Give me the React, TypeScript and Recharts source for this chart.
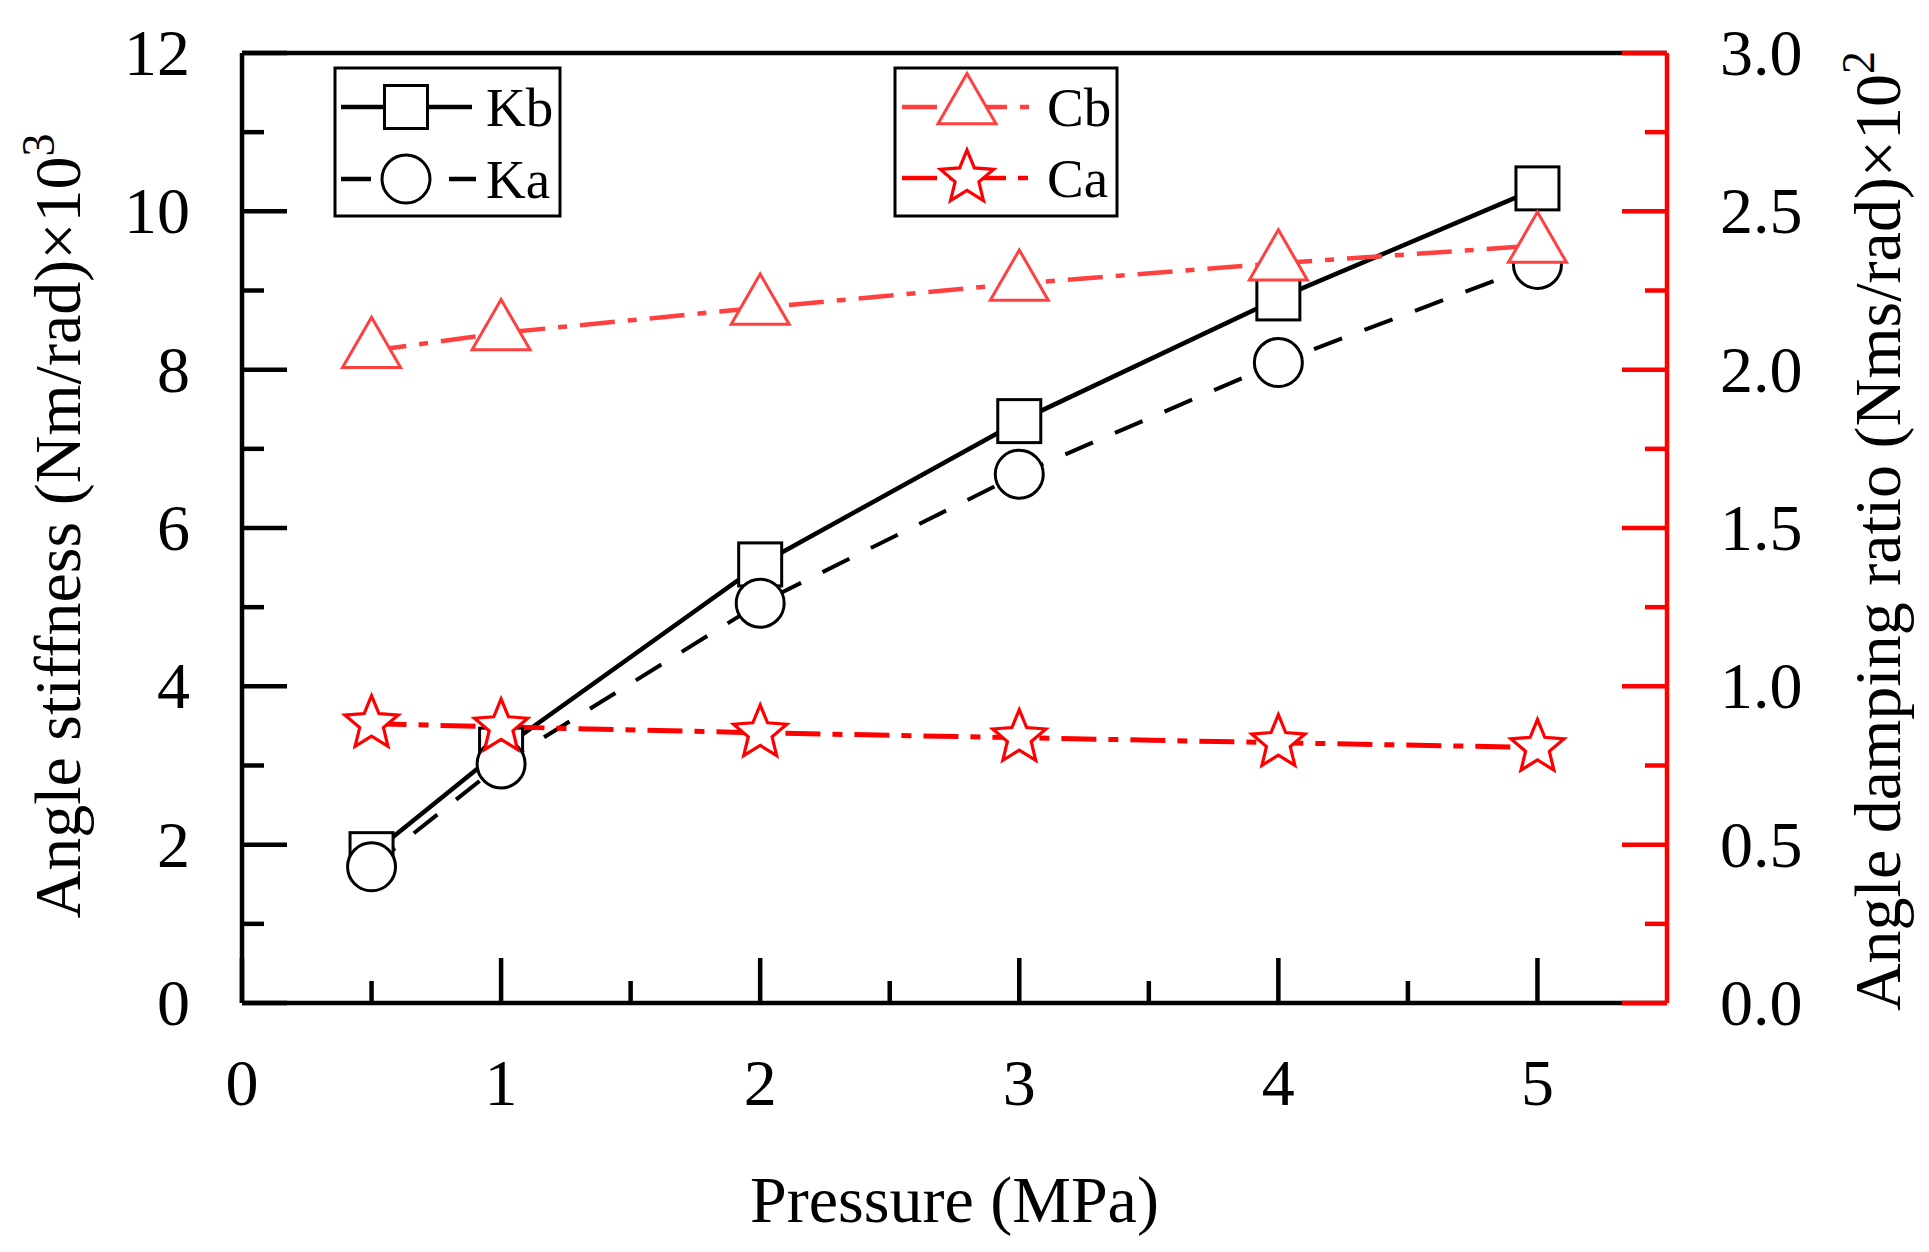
import React from 'react';
import { ComposedChart, Line, XAxis, YAxis, ReferenceLine } from 'recharts';

// ---------- data ----------
const pressure = [0.5, 1, 2, 3, 4, 5];
const kbValues = [1.88, 3.2, 5.54, 7.35, 8.9, 10.29];
const kaValues = [1.72, 3.02, 5.05, 6.68, 8.09, 9.33];
const cbValues = [2.06, 2.116, 2.196, 2.272, 2.336, 2.392];
const caValues = [0.882, 0.872, 0.853, 0.838, 0.822, 0.807];

const xTicks = [0, 0.5, 1, 1.5, 2, 2.5, 3, 3.5, 4, 4.5, 5];
const xTickLabels = [0, 1, 2, 3, 4, 5];
const leftTicks = [0, 1, 2, 3, 4, 5, 6, 7, 8, 9, 10, 11, 12];
const leftTickLabels = [0, 2, 4, 6, 8, 10, 12];
const rightTicks = [0, 0.25, 0.5, 0.75, 1, 1.25, 1.5, 1.75, 2, 2.25, 2.5, 2.75, 3];
const rightTickLabels = [0, 0.5, 1, 1.5, 2, 2.5, 3];

const data = pressure.map((p, i) => ({
  p,
  Kb: kbValues[i],
  Ka: kaValues[i],
  Cb: cbValues[i],
  Ca: caValues[i],
}));

// ---------- styles ----------
const FONT = "'Liberation Serif', 'Times New Roman', Times, serif";
const CB_COLOR = '#FF4040';
const CA_COLOR = '#FF0000';
const AXIS_W = 4.5;
const MAJOR = 45;
const MINOR = 22;
const TICK_FS = 66;
const TITLE_FS = 66;
const SUP_FS = 46;
const LEG_FS = 55;

const KA_DASH = '30 24';
const CB_DASH = '35 13 9 13';
const CA_DASH = '35 12 10 12';

// ---------- marker shapes ----------
function SquareMark({ cx, cy }: { cx: number; cy: number }) {
  const s = 43;
  return <rect x={cx - s / 2} y={cy - s / 2} width={s} height={s} fill="#fff" stroke="#000" strokeWidth={3} />;
}
function CircleMark({ cx, cy }: { cx: number; cy: number }) {
  return <circle cx={cx} cy={cy} r={24} fill="#fff" stroke="#000" strokeWidth={3} />;
}
function TriangleMark({ cx, cy }: { cx: number; cy: number }) {
  const side = 58;
  const h = side * 0.866;
  const pts = `${cx},${cy - (2 * h) / 3} ${cx + side / 2},${cy + h / 3} ${cx - side / 2},${cy + h / 3}`;
  return <polygon points={pts} fill="#fff" stroke={CB_COLOR} strokeWidth={3} />;
}
function StarMark({ cx, cy }: { cx: number; cy: number }) {
  const R = 28;
  const r = 12.5;
  const pts: string[] = [];
  for (let i = 0; i < 10; i++) {
    const a = ((-90 + i * 36) * Math.PI) / 180;
    const rad = i % 2 === 0 ? R : r;
    pts.push(`${cx + rad * Math.cos(a)},${cy + rad * Math.sin(a)}`);
  }
  return <polygon points={pts.join(' ')} fill="#fff" stroke={CA_COLOR} strokeWidth={3.2} />;
}

// ---------- ticks ----------
const BottomTick = (props: any) => {
  const { x, y, payload } = props;
  const v = payload.value;
  const major = xTickLabels.includes(v);
  return (
    <g>
      <line x1={x} x2={x} y1={y} y2={y - (major ? MAJOR : MINOR)} stroke="#000" strokeWidth={AXIS_W} />
      {major && (
        <text x={x} y={y + 102} textAnchor="middle" fontFamily={FONT} fontSize={TICK_FS} fill="#000">
          {String(v)}
        </text>
      )}
    </g>
  );
};
const LeftTick = (props: any) => {
  const { x, y, payload } = props;
  const v = payload.value;
  const major = leftTickLabels.includes(v);
  return (
    <g>
      <line x1={x} x2={x + (major ? MAJOR : MINOR)} y1={y} y2={y} stroke="#000" strokeWidth={AXIS_W} />
      {major && (
        <text x={x - 52} y={y + 22} textAnchor="end" fontFamily={FONT} fontSize={TICK_FS} fill="#000">
          {String(v)}
        </text>
      )}
    </g>
  );
};
const RightTick = (props: any) => {
  const { x, y, payload } = props;
  const v = payload.value;
  const major = rightTickLabels.includes(v);
  return (
    <g>
      <line x1={x} x2={x - (major ? MAJOR : MINOR)} y1={y} y2={y} stroke={CA_COLOR} strokeWidth={AXIS_W} />
      {major && (
        <text x={x + 53} y={y + 22} textAnchor="start" fontFamily={FONT} fontSize={TICK_FS} fill="#000">
          {v.toFixed(1)}
        </text>
      )}
    </g>
  );
};

// ---------- axis titles ----------
const XTitle = (props: any) => {
  const vb = props.viewBox || { x: 242, y: 1003, width: 1425, height: 249 };
  return (
    <text x={vb.x + vb.width / 2} y={vb.y + 219} textAnchor="middle" fontFamily={FONT} fontSize={TITLE_FS} fill="#000">
      Pressure (MPa)
    </text>
  );
};
const LeftTitle = (props: any) => {
  const vb = props.viewBox || { x: 0, y: 53, width: 242, height: 950 };
  const tx = vb.x + 80;
  const ty = vb.y + vb.height / 2 - 2;
  return (
    <text
      x={tx}
      y={ty}
      transform={`rotate(-90 ${tx} ${ty})`}
      textAnchor="middle"
      fontFamily={FONT}
      fontSize={TITLE_FS}
      fill="#000"
    >
      Angle stiffness (Nm/rad)×10
      <tspan fontSize={SUP_FS} dy={-26}>
        3
      </tspan>
    </text>
  );
};
const RightTitle = (props: any) => {
  const vb = props.viewBox || { x: 1667, y: 53, width: 262, height: 950 };
  const tx = vb.x + 233;
  const ty = vb.y + vb.height / 2 + 3;
  return (
    <text
      x={tx}
      y={ty}
      transform={`rotate(-90 ${tx} ${ty})`}
      textAnchor="middle"
      fontFamily={FONT}
      fontSize={66}
      fill="#000"
    >
      Angle damping ratio (Nms/rad)×10
      <tspan fontSize={SUP_FS} dy={-26}>
        2
      </tspan>
    </text>
  );
};

// ---------- legend ----------
function LegendBoxes() {
  return (
    <g>
      <rect x={335} y={68} width={225} height={148} fill="#fff" stroke="#000" strokeWidth={3} />
      <line x1={341} x2={472} y1={107} y2={107} stroke="#000" strokeWidth={4.5} />
      <SquareMark cx={406} cy={107} />
      <text x={486} y={126} fontFamily={FONT} fontSize={LEG_FS} fill="#000">
        Kb
      </text>
      <line x1={341} x2={476} y1={179} y2={179} stroke="#000" strokeWidth={4.5} strokeDasharray={KA_DASH} />
      <CircleMark cx={406} cy={179} />
      <text x={486} y={198} fontFamily={FONT} fontSize={LEG_FS} fill="#000">
        Ka
      </text>

      <rect x={895} y={68} width={222} height={148} fill="#fff" stroke="#000" strokeWidth={3} />
      <line x1={902} x2={1032} y1={107} y2={107} stroke={CB_COLOR} strokeWidth={4.5} strokeDasharray={CB_DASH} />
      <TriangleMark cx={967} cy={107} />
      <text x={1047} y={126} fontFamily={FONT} fontSize={LEG_FS} fill="#000">
        Cb
      </text>
      <line x1={902} x2={1032} y1={178} y2={178} stroke={CA_COLOR} strokeWidth={4.5} strokeDasharray={CA_DASH} />
      <StarMark cx={967} cy={178} />
      <text x={1047} y={197} fontFamily={FONT} fontSize={LEG_FS} fill="#000">
        Ca
      </text>
    </g>
  );
}

export default function App() {
  return (
    <div style={{ position: 'absolute', left: 0, top: 0, width: 1929, height: 1252, background: '#fff' }}>
      <ComposedChart width={1929} height={1252} data={data} margin={{ top: 53, right: 0, bottom: 0, left: 0 }}>
        <XAxis
          dataKey="p"
          type="number"
          domain={[0, 5.5]}
          allowDataOverflow
          ticks={xTicks}
          interval={0}
          height={249}
          tickSize={0}
          tickMargin={0}
          tickLine={false}
          tick={BottomTick}
          axisLine={{ stroke: '#000', strokeWidth: AXIS_W }}
          label={{ content: XTitle }}
        />
        <YAxis
          yAxisId="left"
          orientation="left"
          type="number"
          domain={[0, 12]}
          allowDataOverflow
          ticks={leftTicks}
          interval={0}
          width={242}
          tickSize={0}
          tickMargin={0}
          tickLine={false}
          tick={LeftTick}
          axisLine={{ stroke: '#000', strokeWidth: AXIS_W }}
          label={{ content: LeftTitle }}
        />
        <YAxis
          yAxisId="right"
          orientation="right"
          type="number"
          domain={[0, 3]}
          allowDataOverflow
          ticks={rightTicks}
          interval={0}
          width={262}
          tickSize={0}
          tickMargin={0}
          tickLine={false}
          tick={RightTick}
          axisLine={{ stroke: CA_COLOR, strokeWidth: AXIS_W }}
          label={{ content: RightTitle }}
        />
        <ReferenceLine yAxisId="left" y={12} stroke="#000" strokeWidth={AXIS_W} />

        <Line
          yAxisId="left"
          dataKey="Kb"
          stroke="#000"
          strokeWidth={4.5}
          isAnimationActive={false}
          activeDot={false}
          dot={(p: any) => <SquareMark key={`kb-${p.index}`} cx={p.cx} cy={p.cy} />}
        />
        <Line
          yAxisId="left"
          dataKey="Ka"
          stroke="#000"
          strokeWidth={4}
          strokeDasharray={KA_DASH}
          isAnimationActive={false}
          activeDot={false}
          dot={(p: any) => <CircleMark key={`ka-${p.index}`} cx={p.cx} cy={p.cy} />}
        />
        <Line
          yAxisId="right"
          dataKey="Cb"
          stroke={CB_COLOR}
          strokeWidth={4.5}
          strokeDasharray={CB_DASH}
          isAnimationActive={false}
          activeDot={false}
          dot={(p: any) => <TriangleMark key={`cb-${p.index}`} cx={p.cx} cy={p.cy} />}
        />
        <Line
          yAxisId="right"
          dataKey="Ca"
          stroke={CA_COLOR}
          strokeWidth={5}
          strokeDasharray={CA_DASH}
          isAnimationActive={false}
          activeDot={false}
          dot={(p: any) => <StarMark key={`ca-${p.index}`} cx={p.cx} cy={p.cy} />}
        />
        <LegendBoxes />
      </ComposedChart>
    </div>
  );
}
